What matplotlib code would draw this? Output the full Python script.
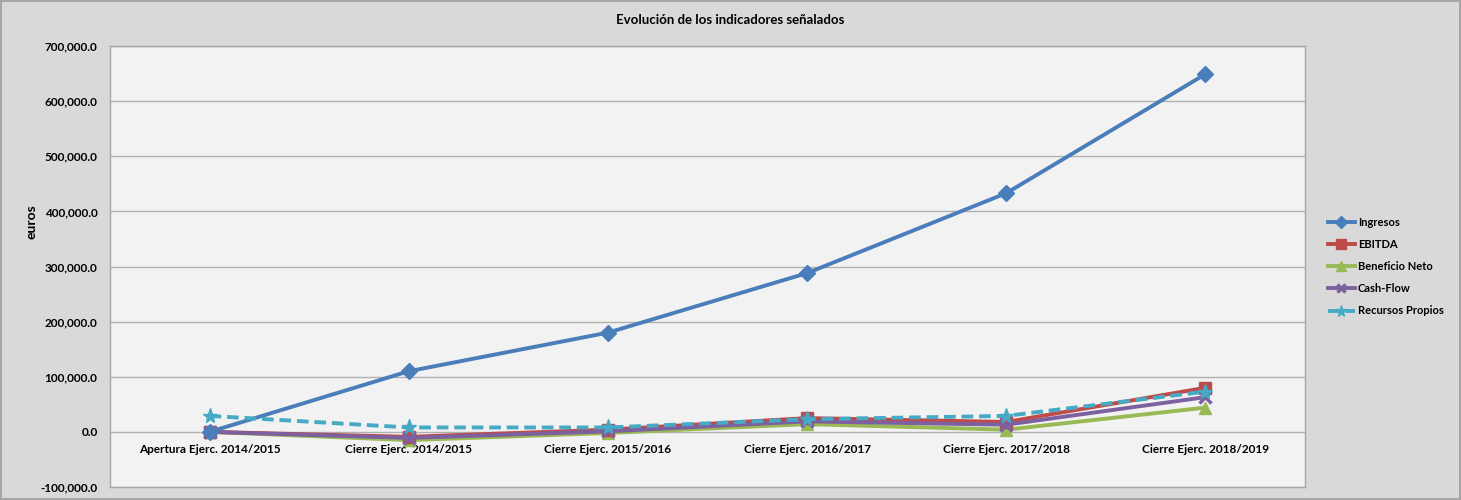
import matplotlib
matplotlib.use("Agg")
import matplotlib.pyplot as plt
from matplotlib.ticker import FuncFormatter, MultipleLocator

plt.rcParams['font.family'] = ['Lato', 'DejaVu Sans']

categories = ["Apertura Ejerc. 2014/2015", "Cierre Ejerc. 2014/2015",
              "Cierre Ejerc. 2015/2016", "Cierre Ejerc. 2016/2017",
              "Cierre Ejerc. 2017/2018", "Cierre Ejerc. 2018/2019"]
ingresos = [0, 110000, 180000, 288000, 433000, 649000]
ebitda = [0, -9000, 4000, 25000, 18000, 80000]
beneficio_neto = [0, -15000, -2000, 14000, 4000, 44000]
cash_flow = [0, -11000, 1000, 19000, 13000, 63000]
recursos_propios = [29000, 8000, 8000, 23000, 29000, 73000]

fig = plt.figure(figsize=(14.61, 5.0), dpi=100)
fig.patch.set_facecolor('#d9d9d9')
fig.patch.set_edgecolor('#a6a6a6')
fig.patch.set_linewidth(1.5)

ax = fig.add_axes([110/1461, 1-487/500, (1305-110)/1461, (487-46)/500])
ax.set_facecolor('#f2f2f2')

x = list(range(len(categories)))
ax.plot(x, ingresos, color='#4a7ebb', lw=2.8, marker='D', ms=8, label='Ingresos', zorder=5)
ax.plot(x, ebitda, color='#be4b48', lw=2.8, marker='s', ms=9, label='EBITDA', zorder=4)
ax.plot(x, beneficio_neto, color='#98b954', lw=2.8, marker='^', ms=9, label='Beneficio Neto', zorder=3)
ax.plot(x, cash_flow, color='#7d60a0', lw=2.8, marker='x', ms=8, mew=2.5, label='Cash-Flow', zorder=4)
ax.plot(x, recursos_propios, color='#46aac5', lw=2.8, ls=(0, (3, 1.5)), marker='*', ms=11,
        label='Recursos Propios', zorder=6)

ax.set_xlim(-0.5, len(categories) - 0.5)
ax.set_ylim(-100000, 700000)
ax.yaxis.set_major_locator(MultipleLocator(100000))
ax.yaxis.set_major_formatter(FuncFormatter(lambda v, p: f"{v:,.1f}"))
ax.grid(axis='y', color='#b0b0b0', lw=1)
ax.set_axisbelow(True)
ax.tick_params(axis='y', length=0, pad=9, labelsize=8.5)
for lab in ax.get_yticklabels():
    lab.set_fontweight('bold')
ax.set_xticks([])
for s in ax.spines.values():
    s.set_color('#a6a6a6')
    s.set_linewidth(1)

# category labels sit on the zero line
sec = ax.secondary_xaxis(1/8)
sec.set_xticks(x)
sec.set_xticklabels(categories, fontweight='bold', fontsize=8.5)
sec.tick_params(length=0, pad=9)
sec.spines['bottom'].set_visible(False)

fig.text(0.5, 1-20/500, "Evolución de los indicadores señalados", ha='center', va='center',
         fontsize=9.5, fontweight='bold')
fig.text(32/1461, 1-222/500, "euros", rotation=90, ha='center', va='center',
         fontsize=10, fontweight='bold')

leg = fig.legend(loc='upper left', bbox_to_anchor=(1318/1461, 1-207/500), frameon=False,
                 handlelength=2.4, labelspacing=1.0, handletextpad=0.3, markerscale=0.75,
                 prop={'weight': 'bold', 'size': 8})

fig.savefig('out.png', dpi=100, facecolor=fig.get_facecolor(), edgecolor=fig.get_edgecolor())
